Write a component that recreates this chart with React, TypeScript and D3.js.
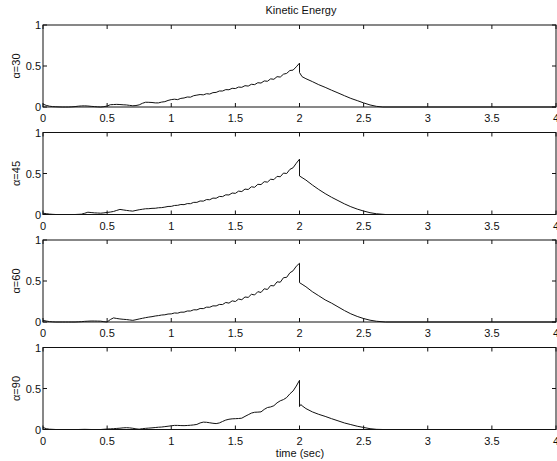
import React from 'react';
import * as d3 from 'd3';

const STEP = 0.025;
const TITLE = 'Kinetic Energy';
const X_LABEL = 'time (sec)';
const PANEL_LABELS = ['α=30', 'α=45', 'α=60', 'α=90'];
const X_TICKS = [0, 0.5, 1, 1.5, 2, 2.5, 3, 3.5, 4];
const X_TICK_LABELS = ['0', '0.5', '1', '1.5', '2', '2.5', '3', '3.5', '4'];
const Y_TICKS = [0, 0.5, 1];
const Y_TICK_LABELS = ['0', '0.5', '1'];

// rise portion, sampled every STEP seconds from t=0 to t=2
const rise30 = [
  0.035, 0.02, 0.01, 0.005, 0.003, 0.001, 0, 0,
  0, 0.002, 0.005, 0.01, 0.013, 0.014, 0.012, 0.008,
  0.005, 0.002, 0, 0.004, 0.012, 0.028, 0.03, 0.032,
  0.03, 0.027, 0.025, 0.02, 0.015, 0.018, 0.026, 0.045,
  0.058, 0.057, 0.055, 0.05, 0.05, 0.06, 0.065, 0.08,
  0.09, 0.095, 0.09, 0.105, 0.11, 0.122, 0.12, 0.138,
  0.145, 0.152, 0.148, 0.162, 0.158, 0.175, 0.178, 0.195,
  0.195, 0.212, 0.21, 0.228, 0.225, 0.243, 0.24, 0.26,
  0.255, 0.277, 0.273, 0.296, 0.292, 0.318, 0.314, 0.343,
  0.338, 0.37, 0.365, 0.4, 0.41, 0.445, 0.45, 0.49,
  0.535,
];
const rise45 = [
  0.016, 0.01, 0.005, 0.002, 0, 0, 0, 0,
  0, 0, 0, 0.002, 0.004, 0.015, 0.028, 0.024,
  0.02, 0.018, 0.016, 0.02, 0.025, 0.03, 0.037, 0.05,
  0.062, 0.056, 0.05, 0.045, 0.041, 0.05, 0.058, 0.064,
  0.07, 0.071, 0.075, 0.076, 0.082, 0.084, 0.09, 0.098,
  0.099, 0.11, 0.112, 0.122, 0.12, 0.133, 0.132, 0.148,
  0.148, 0.165, 0.163, 0.182, 0.18, 0.2, 0.198, 0.22,
  0.218, 0.24, 0.238, 0.262, 0.258, 0.285, 0.28, 0.31,
  0.305, 0.338, 0.332, 0.368, 0.365, 0.4, 0.395, 0.43,
  0.425, 0.465, 0.46, 0.505, 0.5, 0.55, 0.57, 0.625,
  0.675,
];
const rise60 = [
  0.02, 0.012, 0.005, 0.002, 0, 0, 0, 0,
  0, 0, 0, 0.002, 0.004, 0.008, 0.01, 0.012,
  0.012, 0.011, 0.01, 0.004, 0, 0.03, 0.05, 0.043,
  0.037, 0.033, 0.03, 0.025, 0.02, 0.028, 0.037, 0.045,
  0.053, 0.06, 0.065, 0.073, 0.078, 0.085, 0.088, 0.097,
  0.099, 0.11, 0.108, 0.12, 0.12, 0.134, 0.134, 0.149,
  0.148, 0.165, 0.163, 0.181, 0.18, 0.197, 0.196, 0.214,
  0.213, 0.238, 0.23, 0.258, 0.25, 0.28, 0.272, 0.305,
  0.3, 0.338, 0.33, 0.37, 0.36, 0.405, 0.397, 0.445,
  0.44, 0.49, 0.485, 0.54, 0.545, 0.6, 0.625, 0.68,
  0.716,
];
const rise90 = [
  0.025, 0.01, 0.004, 0.002, 0, 0, 0, 0,
  0, 0, 0, 0, 0.001, 0.002, 0.001, 0,
  0, 0, 0, 0.003, 0.006, 0.008, 0.01, 0.013,
  0.016, 0.02, 0.022, 0.02, 0.015, 0.008, 0.004, 0.01,
  0.014, 0.017, 0.02, 0.024, 0.028, 0.03, 0.035, 0.04,
  0.045, 0.05, 0.05, 0.048, 0.047, 0.049, 0.052, 0.056,
  0.062, 0.08, 0.09, 0.088, 0.082, 0.076, 0.072, 0.08,
  0.098, 0.115, 0.125, 0.13, 0.132, 0.134, 0.138, 0.16,
  0.18, 0.2, 0.21, 0.212, 0.215, 0.245, 0.268, 0.275,
  0.29, 0.325, 0.35, 0.365, 0.39, 0.435, 0.47, 0.53,
  0.6,
];

// decay portion after the drop at t=2: [time, value]
const decay30: [number, number][] = [
  [2.0, 0.42], [2.02, 0.37], [2.05, 0.345], [2.1, 0.31], [2.15, 0.272], [2.2, 0.24],
  [2.25, 0.205], [2.3, 0.172], [2.35, 0.138], [2.4, 0.105], [2.45, 0.078], [2.5, 0.05],
  [2.55, 0.025], [2.6, 0.008], [2.65, 0], [4, 0],
];
const decay45: [number, number][] = [
  [2.0, 0.47], [2.02, 0.45], [2.05, 0.42], [2.1, 0.36], [2.15, 0.305], [2.2, 0.255],
  [2.25, 0.21], [2.3, 0.17], [2.35, 0.13], [2.4, 0.095], [2.45, 0.066], [2.5, 0.042],
  [2.55, 0.022], [2.6, 0.009], [2.67, 0], [4, 0],
];
const decay60: [number, number][] = [
  [2.0, 0.48], [2.02, 0.46], [2.05, 0.43], [2.1, 0.37], [2.15, 0.32], [2.2, 0.27],
  [2.25, 0.23], [2.3, 0.185], [2.35, 0.14], [2.4, 0.1], [2.45, 0.068], [2.5, 0.042],
  [2.55, 0.022], [2.6, 0.009], [2.67, 0], [4, 0],
];
const decay90: [number, number][] = [
  [2.0, 0.28], [2.01, 0.305], [2.02, 0.29], [2.05, 0.255], [2.1, 0.215], [2.15, 0.185],
  [2.2, 0.16], [2.25, 0.132], [2.3, 0.106], [2.35, 0.08], [2.4, 0.06], [2.45, 0.04],
  [2.5, 0.025], [2.55, 0.01], [2.6, 0.002], [2.65, 0], [4, 0],
];

const RISES = [rise30, rise45, rise60, rise90];
const DECAYS = [decay30, decay45, decay60, decay90];

const W = 557;
const H = 461;
const LEFT = 43;
const RIGHT = 556;
const TOP0 = 25;
const PANEL_GAP = 107.5;
const PANEL_H = 82;
const TICK = 4;
const FONT = '"Liberation Sans", Arial, Helvetica, sans-serif';

export default function App() {
  const x = d3.scaleLinear().domain([0, 4]).range([LEFT, RIGHT]);
  return (
    <div style={{ position: 'fixed', left: 0, top: 0, width: W, height: H, background: '#fff' }}>
      <svg width={W} height={H} style={{ display: 'block' }} fontFamily={FONT}>
        <rect x={0} y={0} width={W} height={H} fill="#fff" />
        <text x={301} y={14} fontSize={11} textAnchor="middle" fill="#111">{TITLE}</text>
        {PANEL_LABELS.map((lab, i) => {
          const top = TOP0 + i * PANEL_GAP;
          const bottom = top + PANEL_H;
          const y = d3.scaleLinear().domain([0, 1]).range([bottom, top]);
          const pts: [number, number][] = RISES[i].map((v, k) => [k * STEP, v] as [number, number]).concat(DECAYS[i]);
          const line = d3.line<[number, number]>().x(d => x(d[0])).y(d => y(d[1]));
          return (
            <g key={lab}>
              <path d={line(pts) || ''} fill="none" stroke="#111" strokeWidth={1} />
              <rect x={LEFT} y={top} width={RIGHT - LEFT} height={PANEL_H} fill="none" stroke="#111" strokeWidth={1} />
              {X_TICKS.map((t, k) => (
                <g key={'x' + k}>
                  <line x1={x(t)} x2={x(t)} y1={bottom} y2={bottom - TICK} stroke="#111" />
                  <line x1={x(t)} x2={x(t)} y1={top} y2={top + TICK} stroke="#111" />
                  <text x={x(t)} y={bottom + 15} fontSize={11} textAnchor="middle" fill="#111">{X_TICK_LABELS[k]}</text>
                </g>
              ))}
              {Y_TICKS.map((t, k) => (
                <g key={'y' + k}>
                  <line x1={LEFT} x2={LEFT + TICK} y1={y(t)} y2={y(t)} stroke="#111" />
                  <line x1={RIGHT} x2={RIGHT - TICK} y1={y(t)} y2={y(t)} stroke="#111" />
                  <text x={LEFT - 2} y={y(t) + 4} fontSize={11} textAnchor="end" fill="#111">{Y_TICK_LABELS[k]}</text>
                </g>
              ))}
              <text
                transform={`translate(${20},${(top + bottom) / 2}) rotate(-90)`}
                fontSize={11}
                textAnchor="middle"
                fill="#111"
              >{lab}</text>
            </g>
          );
        })}
        <text x={300} y={457} fontSize={11} textAnchor="middle" fill="#111">{X_LABEL}</text>
      </svg>
    </div>
  );
}
